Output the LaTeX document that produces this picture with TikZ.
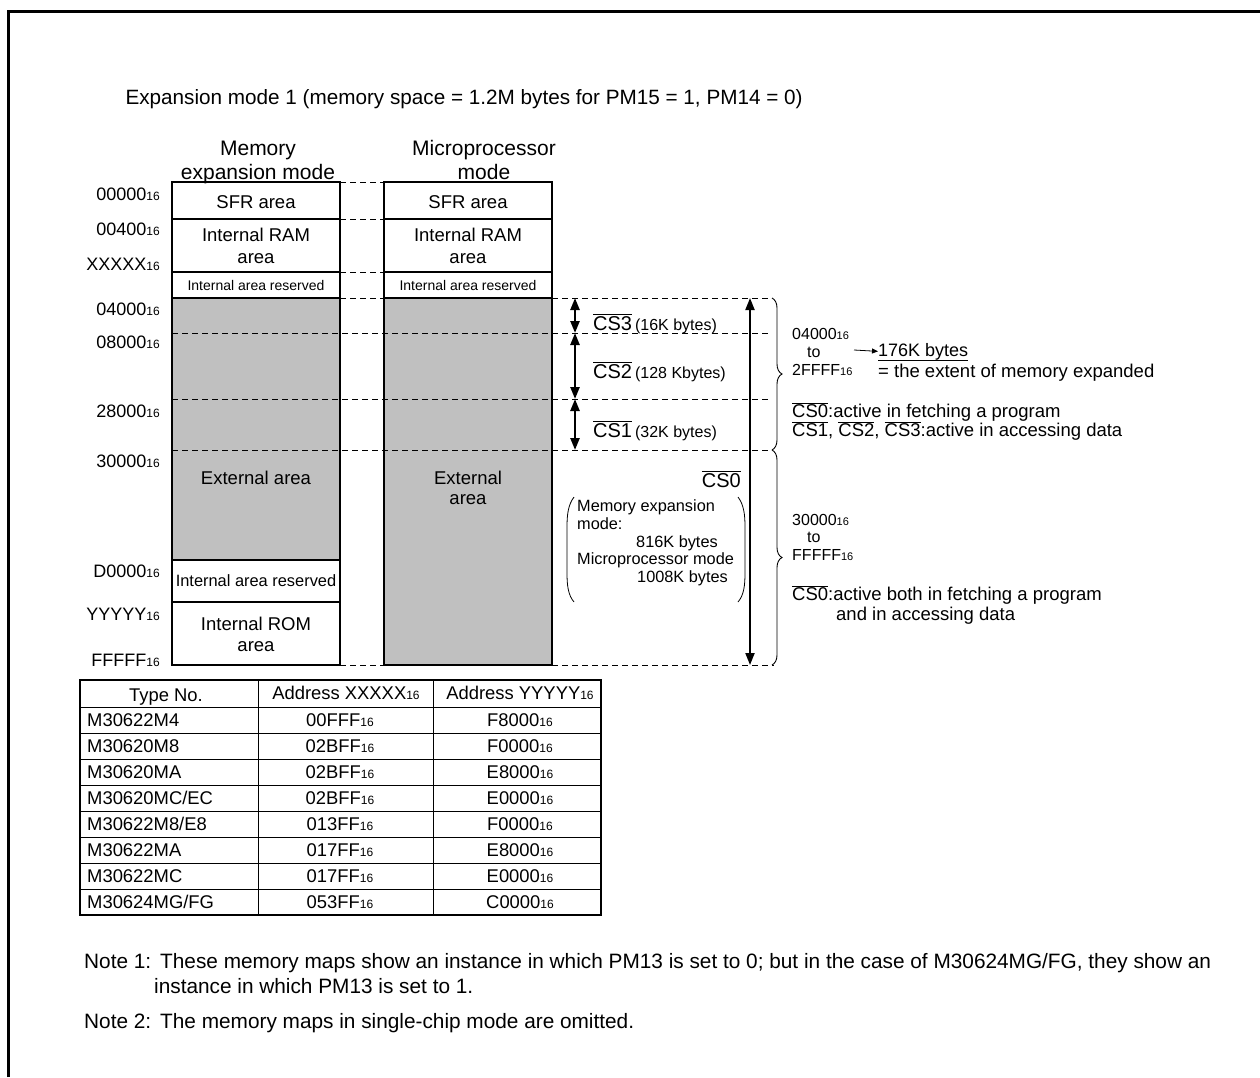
\documentclass[tikz,border=0pt]{standalone}
\usepackage{fontspec}
\setmainfont{Liberation Sans}
\usetikzlibrary{arrows.meta,decorations.pathreplacing}
\definecolor{extgray}{HTML}{C0C0C0}
\newcommand\fsz[2]{\fontsize{#1}{#2}\selectfont}
\newcommand\hx[2][12]{#2{\fontsize{#1}{#1}\selectfont 16}}
\newcommand\ovl[1]{$\overline{\mbox{#1}}$}

\begin{document}
\begin{tikzpicture}[x=1pt,y=-1pt,
  mapline/.style={line width=1.6pt},
  guide/.style={line width=0.9pt, dash pattern=on 6pt off 4pt},
  areatxt/.style={font=\fsz{18.5}{21}, align=center, inner sep=0pt},
  addr/.style={anchor=east, inner sep=0pt, font=\fsz{18}{20}},
  span/.style={line width=2pt, {Triangle[length=12pt,width=9pt]}-{Triangle[length=12pt,width=9pt]}},
  brc/.style={decorate, decoration={brace, amplitude=10pt}, line width=0.9pt},
  cell/.style={font=\fsz{18.4}{20}, inner sep=0pt},
  note/.style={anchor=base west, inner sep=0pt, font=\fsz{20.8}{25}}]
  \useasboundingbox (0,0) rectangle (1260,1077);
  \draw[line width=3pt] (8,1077) -- (8,11) -- (1260,11);

  \node[anchor=west, font=\fsz{20.7}{24}] (title) at (122,99)
    {Expansion mode 1 (memory space = 1.2M bytes for PM15 = 1, PM14 = 0)};

  % column headers
  \node[anchor=base, align=center, font=\fsz{21}{24}] (hdmem) at (258,179) {Memory\\expansion mode};
  \node[anchor=base, align=center, font=\fsz{21}{24}] (hdmic) at (484,179) {Microprocessor\\mode};

  % external areas
  \fill[extgray] (172,298) rectangle (340,560);
  \fill[extgray] (384,298) rectangle (552,665);

  % dashed guides
  \foreach \y in {182,219,272,298,665}
    \draw[guide] (340,\y) -- (384,\y);
  \foreach \y in {333,399,450}
    \draw[guide] (172,\y) -- (770,\y);
  \draw[guide] (552,298) -- (772,298);
  \draw[guide] (552,665) -- (774,665);

  % memory maps
  \draw[mapline] (172,182) rectangle (340,665);
  \foreach \y in {219,272,298,560,602}
    \draw[mapline] (172,\y) -- (340,\y);
  \draw[mapline] (384,182) rectangle (552,665);
  \foreach \y in {219,272,298}
    \draw[mapline] (384,\y) -- (552,\y);

  \node[areatxt] (sfrL) at (256,202) {SFR area};
  \node[areatxt] (sfrR) at (468,202) {SFR area};
  \node[areatxt, font=\fsz{18.5}{22}] (ramL) at (256,246) {Internal RAM\\area};
  \node[areatxt, font=\fsz{18.5}{22}] (ramR) at (468,246) {Internal RAM\\area};
  \node[areatxt, font=\fsz{14}{16}] (rsvL) at (256,285) {Internal area reserved};
  \node[areatxt, font=\fsz{14}{16}] (rsvR) at (468,285) {Internal area reserved};
  \node[areatxt] (extL) at (256,478) {External area};
  \node[areatxt, font=\fsz{18.5}{20}] (extR) at (468,488) {External\\area};
  \node[areatxt, font=\fsz{16.4}{18}] (rsvL2) at (256,581) {Internal area reserved};
  \node[areatxt, font=\fsz{18.5}{21}] (romL) at (256,634) {Internal ROM\\area};

  % addresses
  \foreach \a/\y in {00000/194, 00400/229, XXXXX/264, 04000/309, 08000/342,
                     28000/411, 30000/461, D0000/571, YYYYY/614, FFFFF/660}
    \node[addr] (ad\a) at (160,\y) {\hx{\a}};

  % chip select spans
  \coordinate (b0) at (575,298);
  \coordinate (b1) at (575,333);
  \coordinate (b2) at (575,399);
  \coordinate (b3) at (575,450);
  \draw[span, line width=2.4pt] (b0) -- (b1);
  \draw[span, line width=2.4pt] (b1) -- (b2);
  \draw[span, line width=2.4pt] (b2) -- (b3);
  \coordinate (c0) at (750,298);
  \coordinate (c1) at (750,665);
  \draw[span] (c0) -- (c1);

  \node[anchor=base west, inner sep=0pt, font=\fsz{20}{22}] (cs3) at (593,330) {\ovl{CS3}\kern3pt{\fsz{16}{18}(16K bytes)}};
  \node[anchor=base west, inner sep=0pt, font=\fsz{20}{22}] (cs2) at (593,378) {\ovl{CS2}\kern3pt{\fsz{16}{18}(128 Kbytes)}};
  \node[anchor=base west, inner sep=0pt, font=\fsz{20}{22}] (cs1) at (593,437) {\ovl{CS1}\kern3pt{\fsz{16}{18}(32K bytes)}};
  \node[anchor=base east, inner sep=0pt, font=\fsz{20}{22}] (cs0) at (741,487) {\ovl{CS0}};

  \node[anchor=west, align=left, inner sep=0pt, font=\fsz{16.3}{17.75}] (sizes) at (577,543)
    {Memory expansion\\mode:\\\hspace*{59pt}816K bytes\\Microprocessor mode\\\hspace*{60pt}1008K bytes};
  \draw[line width=0.8pt] (574,497) .. controls (568,505) and (567,515) .. (567,527) -- (567,573)
    .. controls (567,585) and (568,595) .. (574,602);
  \draw[line width=0.8pt] (738,497) .. controls (744,505) and (745,515) .. (745,527) -- (745,573)
    .. controls (745,585) and (744,595) .. (738,602);

  % braces and notes on the right
  \coordinate (k0) at (772,298);
  \coordinate (k1) at (772,450);
  \coordinate (k2) at (772,665);
  \draw[brc] (k0) -- (k1);
  \draw[brc] (k1) -- (k2);

  \node[anchor=west, align=left, inner sep=0pt, font=\fsz{16}{18}] (rng1) at (792,352)
    {\hx[11]{04000}\\\hspace*{15pt}to\\\hx[11]{2FFFF}};
  \node[anchor=base west, inner sep=0pt, font=\fsz{18}{20}] (ext176) at (878,356) {176K bytes};
  \coordinate (arrA) at (854,350);
  \draw[line width=0.8pt, -{Triangle[length=6pt,width=5pt]}] (arrA) -- (ext176.west);
  \draw[line width=0.8pt] (ext176.south west) -- (ext176.south east);
  \node[anchor=base west, inner sep=0pt, font=\fsz{18.5}{20}] (extent) at (878,377) {= the extent of memory expanded};
  \node[anchor=west, align=left, inner sep=0pt, font=\fsz{18.5}{19}] (act1) at (792,421)
    {\ovl{CS0}:active in fetching a program\\\ovl{CS1}, \ovl{CS2}, \ovl{CS3}:active in accessing data};

  \node[anchor=west, align=left, inner sep=0pt, font=\fsz{16}{17.5}] (rng2) at (792,537)
    {\hx[11]{30000}\\\hspace*{15pt}to\\\hx[11]{FFFFF}};
  \node[anchor=west, align=left, inner sep=0pt, font=\fsz{18.5}{20}] (act2) at (792,605)
    {\ovl{CS0}:active both in fetching a program\\\hspace*{44pt}and in accessing data};

  % type table
  \draw[line width=1.5pt] (80,680) rectangle (601,915);
  \foreach \k in {0,...,7}
    \draw[line width=0.9pt] (80,{707+26*\k}) -- (601,{707+26*\k});
  \draw[line width=0.9pt] (258,680) -- (258,915);
  \draw[line width=0.9pt] (433,680) -- (433,915);
  \node[cell] (thtype) at (166,697) {Type No.};
  \node[cell] (thx) at (346,693) {Address \hx{XXXXX}};
  \node[cell] (thy) at (520,693) {Address \hx{YYYYY}};
  \foreach \t/\a/\b [count=\i] in {M30622M4/00FFF/F8000, M30620M8/02BFF/F0000,
      M30620MA/02BFF/E8000, {M30620MC/EC}/02BFF/E0000, {M30622M8/E8}/013FF/F0000,
      M30622MA/017FF/E8000, M30622MC/017FF/E0000, {M30624MG/FG}/053FF/C0000} {
    \node[cell, anchor=west] (tn\i) at (87,{694+26*\i}) {\t};
    \node[cell] (tx\i) at (340,{694+26*\i}) {\hx{\a}};
    \node[cell] (ty\i) at (520,{694+26*\i}) {\hx{\b}};
  }

  % notes
  \node[note] (n1) at (84,968) {Note 1:};
  \node[note] (n1a) at (160,968)
    {These memory maps show an instance in which PM13 is set to 0; but in the case of M30624MG/FG, they show an};
  \node[note] (n1b) at (154,993) {instance in which PM13 is set to 1.};
  \node[note] (n2) at (84,1028) {Note 2:};
  \node[note] (n2a) at (160,1028) {The memory maps in single-chip mode are omitted.};
\end{tikzpicture}
\end{document}
